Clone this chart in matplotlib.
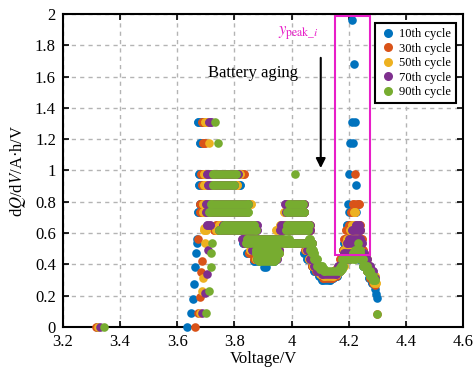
import matplotlib
matplotlib.use("Agg")
import matplotlib.pyplot as plt
from matplotlib.lines import Line2D
from matplotlib.patches import Rectangle
from matplotlib.ticker import FuncFormatter

plt.rcParams['font.family'] = ['Liberation Serif', 'DejaVu Serif']
plt.rcParams['mathtext.fontset'] = 'stix'

# === Données : bandes horizontales (dQ/dV, V début, V fin) et points isolés ===
labels = ["10th cycle", "30th cycle", "50th cycle", "70th cycle", "90th cycle"]
colors = ["#0072BD", "#D95319", "#EDB120", "#7E2F8E", "#77AC30"]

# 10th cycle
c10_bands = [
    (1.307, 3.673, 3.685), (1.176, 3.680, 3.686), (0.98, 3.675, 3.800),
    (0.905, 3.677, 3.820), (0.784, 3.680, 3.840), (0.735, 3.672, 3.835),
    (0.653, 3.750, 3.865), (0.619, 3.740, 3.860), (0.56, 3.830, 3.950),
    (0.535, 3.830, 3.950), (0.47, 3.843, 3.950), (0.42, 3.870, 3.940),
    (0.784, 3.980, 4.040), (0.735, 3.978, 4.040), (0.653, 3.975, 4.060),
    (0.619, 3.972, 4.060), (0.535, 3.975, 4.065), (0.47, 4.045, 4.060),
    (0.435, 4.055, 4.075), (0.392, 4.070, 4.085), (0.356, 4.080, 4.100),
    (0.327, 4.095, 4.110), (0.30, 4.105, 4.135), (0.31, 4.130, 4.145),
    (0.327, 4.140, 4.160), (0.356, 4.155, 4.170), (0.392, 4.165, 4.180),
    (0.435, 4.172, 4.190), (0.49, 4.180, 4.195), (0.535, 4.185, 4.200),
    (0.56, 4.190, 4.200), (0.653, 4.193, 4.200), (0.435, 4.235, 4.250),
    (0.392, 4.250, 4.262), (0.356, 4.262, 4.272), (0.31, 4.272, 4.282),
    (0.28, 4.280, 4.288),
]
c10_v = [3.320, 3.635, 3.648, 3.656, 3.660, 3.662, 3.665, 3.668, 3.670,
         3.904, 3.910, 4.210, 4.218, 4.211, 4.222, 4.206, 4.214, 4.201,
         4.226, 4.198, 4.200, 4.226, 4.232, 4.290, 4.295, 4.298]
c10_q = [0.0, 0.0, 0.09, 0.18, 0.275, 0.38, 0.47, 0.535, 0.56,
         0.38, 0.38, 1.96, 1.68, 1.307, 1.307, 1.176, 1.176, 0.98,
         0.905, 0.784, 0.735, 0.735, 0.784, 0.245, 0.21, 0.185]

# 30th cycle
c30_bands = [
    (1.307, 3.686, 3.695), (1.176, 3.690, 3.697), (0.98, 3.684, 3.832),
    (0.905, 3.685, 3.810), (0.784, 3.678, 3.845), (0.735, 3.680, 3.835),
    (0.653, 3.735, 3.870), (0.619, 3.728, 3.868), (0.56, 3.835, 3.960),
    (0.535, 3.835, 3.955), (0.47, 3.850, 3.955), (0.435, 3.870, 3.945),
    (0.784, 3.985, 4.040), (0.735, 3.980, 4.045), (0.653, 3.968, 4.062),
    (0.619, 3.965, 4.065), (0.535, 3.978, 4.068), (0.49, 4.047, 4.065),
    (0.435, 4.060, 4.078), (0.392, 4.072, 4.090), (0.356, 4.085, 4.105),
    (0.336, 4.100, 4.115), (0.31, 4.110, 4.140), (0.327, 4.135, 4.155),
    (0.356, 4.150, 4.170), (0.392, 4.165, 4.180), (0.435, 4.170, 4.190),
    (0.49, 4.180, 4.200), (0.56, 4.185, 4.245), (0.619, 4.190, 4.240),
    (0.653, 4.200, 4.240), (0.735, 4.208, 4.222), (0.784, 4.215, 4.235),
    (0.49, 4.240, 4.250), (0.435, 4.245, 4.260), (0.392, 4.255, 4.268),
    (0.356, 4.265, 4.278), (0.31, 4.275, 4.288), (0.28, 4.285, 4.293),
]
c30_v = [3.316, 3.662, 3.674, 3.680, 3.682, 3.688, 3.672, 4.222, 4.293, 4.297]
c30_q = [0.0, 0.0, 0.09, 0.19, 0.35, 0.42, 0.56, 0.98, 0.27, 0.08]

# 50th cycle
c50_bands = [
    (1.307, 3.698, 3.705), (0.98, 3.694, 3.818), (0.905, 3.695, 3.810),
    (0.784, 3.690, 3.858), (0.735, 3.690, 3.845), (0.653, 3.745, 3.870),
    (0.619, 3.692, 3.700), (0.619, 3.735, 3.875), (0.56, 3.838, 3.960),
    (0.535, 3.838, 3.958), (0.49, 3.855, 3.955), (0.435, 3.875, 3.945),
    (0.784, 3.985, 4.045), (0.735, 3.975, 4.045), (0.653, 3.960, 4.065),
    (0.619, 3.945, 4.065), (0.535, 3.980, 4.070), (0.49, 4.050, 4.070),
    (0.435, 4.062, 4.080), (0.392, 4.075, 4.092), (0.371, 4.090, 4.105),
    (0.336, 4.100, 4.120), (0.327, 4.115, 4.145), (0.336, 4.140, 4.158),
    (0.371, 4.155, 4.172), (0.392, 4.168, 4.182), (0.435, 4.175, 4.200),
    (0.49, 4.185, 4.240), (0.535, 4.190, 4.235), (0.56, 4.195, 4.235),
    (0.619, 4.205, 4.235), (0.653, 4.210, 4.228), (0.735, 4.217, 4.222),
    (0.47, 4.240, 4.252), (0.435, 4.250, 4.262), (0.392, 4.258, 4.270),
    (0.356, 4.268, 4.280), (0.327, 4.278, 4.290), (0.28, 4.288, 4.295),
]
c50_v = [3.322, 3.678, 3.688, 3.691, 3.697, 3.694, 3.712]
c50_q = [0.0, 0.09, 0.23, 0.31, 0.535, 0.63, 1.176]

# 70th cycle
c70_bands = [
    (1.307, 3.712, 3.718), (0.98, 3.703, 3.812), (0.905, 3.709, 3.800),
    (0.784, 3.700, 3.848), (0.735, 3.700, 3.845), (0.653, 3.705, 3.715),
    (0.653, 3.760, 3.880), (0.619, 3.745, 3.880), (0.56, 3.826, 3.965),
    (0.535, 3.832, 3.960), (0.49, 3.860, 3.955), (0.435, 3.880, 3.950),
    (0.784, 3.976, 4.045), (0.735, 3.980, 4.045), (0.653, 3.963, 4.065),
    (0.619, 3.958, 4.065), (0.535, 3.985, 4.072), (0.49, 4.055, 4.072),
    (0.435, 4.065, 4.085), (0.392, 4.078, 4.095), (0.356, 4.090, 4.110),
    (0.336, 4.105, 4.155), (0.356, 4.150, 4.165), (0.392, 4.162, 4.178),
    (0.435, 4.175, 4.200), (0.47, 4.185, 4.250), (0.535, 4.195, 4.245),
    (0.56, 4.200, 4.240), (0.619, 4.210, 4.240), (0.653, 4.225, 4.235),
    (0.47, 4.245, 4.255), (0.435, 4.252, 4.265), (0.392, 4.262, 4.275),
    (0.356, 4.272, 4.285), (0.31, 4.283, 4.293),
]
c70_v = [3.330, 3.685, 3.697, 3.705, 3.709]
c70_q = [0.0, 0.09, 0.22, 0.34, 0.49]

# 90th cycle
c90_bands = [
    (0.98, 3.726, 3.804), (0.905, 3.724, 3.798), (0.784, 3.718, 3.846),
    (0.735, 3.712, 3.846), (0.653, 3.765, 3.868), (0.619, 3.745, 3.875),
    (0.56, 3.845, 3.990), (0.535, 3.840, 4.000), (0.49, 3.875, 3.950),
    (0.47, 3.875, 3.955), (0.435, 3.880, 3.945), (0.42, 3.885, 3.940),
    (0.784, 3.990, 4.040), (0.735, 3.985, 4.045), (0.653, 3.985, 4.062),
    (0.619, 3.980, 4.058), (0.535, 3.990, 4.070), (0.56, 4.060, 4.065),
    (0.49, 4.065, 4.075), (0.47, 4.070, 4.080), (0.435, 4.078, 4.090),
    (0.392, 4.090, 4.105), (0.371, 4.100, 4.115), (0.356, 4.112, 4.170),
    (0.371, 4.165, 4.175), (0.392, 4.172, 4.180), (0.435, 4.178, 4.222),
    (0.47, 4.215, 4.240), (0.49, 4.222, 4.238), (0.435, 4.240, 4.250),
    (0.392, 4.250, 4.262), (0.356, 4.262, 4.275), (0.327, 4.275, 4.285),
    (0.30, 4.285, 4.292),
]
c90_v = [3.345, 3.699, 3.712, 3.717, 3.717, 3.723, 3.731, 3.744, 4.012, 4.233, 4.297]
c90_q = [0.0, 0.09, 0.23, 0.38, 0.47, 0.535, 1.307, 1.176, 0.98, 0.535, 0.08]

cycles = [
    (c10_bands, c10_v, c10_q),
    (c30_bands, c30_v, c30_q),
    (c50_bands, c50_v, c50_q),
    (c70_bands, c70_v, c70_q),
    (c90_bands, c90_v, c90_q),
]

# === Figure ===
D = 6.2  # diamètre des points (pt)
fig = plt.figure(figsize=(4.76, 3.69), dpi=100)
ax = fig.add_axes([0.132, 0.114, 0.841, 0.848])

for (bands, v, q), col in zip(cycles, colors):
    for y, v0, v1 in bands:
        ax.plot([v0, v1], [y, y], color=col, lw=D, solid_capstyle='round',
                marker='o', ms=D, mew=0, zorder=3, clip_on=False)
    ax.plot(v, q, 'o', color=col, ms=D, mew=0, ls='none', zorder=3, clip_on=False)

ax.set_xlim(3.2, 4.6)
ax.set_ylim(0, 2)
ax.set_xticks([3.2, 3.4, 3.6, 3.8, 4.0, 4.2, 4.4, 4.6])
ax.set_yticks([0, 0.2, 0.4, 0.6, 0.8, 1.0, 1.2, 1.4, 1.6, 1.8, 2.0])
fmt = FuncFormatter(lambda val, pos: "%g" % round(val, 2))
ax.xaxis.set_major_formatter(fmt)
ax.yaxis.set_major_formatter(fmt)
ax.tick_params(direction='in', top=True, right=True, length=4, width=1.2,
               labelsize=12)
ax.tick_params(axis='x', pad=5)
ax.tick_params(axis='y', pad=5)
for sp in ax.spines.values():
    sp.set_linewidth(1.5)
ax.grid(True, color='#b4b4b4', ls=(0, (3, 3)), lw=1.0, zorder=0)
ax.set_axisbelow(True)

ax.set_xlabel("Voltage/V", fontsize=12, labelpad=1)
ax.set_ylabel(r"d$Q$/d$V$/A·h/V", fontsize=12, labelpad=5)

# rectangle pic
ax.add_patch(Rectangle((4.152, 0.46), 0.123, 1.525, fill=False,
                       edgecolor='#e81ec8', lw=1.5, zorder=4))
ax.text(4.022, 1.88, r"$y_{\mathrm{peak}\_i}$", color='#e81ec8',
        fontsize=12, ha='center', va='center')

ax.text(3.864, 1.623, "Battery aging", fontsize=12, ha='center', va='center')
ax.annotate("", xy=(4.102, 1.015), xytext=(4.102, 1.72),
            arrowprops=dict(arrowstyle='-|>', color='k', lw=1.5,
                            mutation_scale=14, shrinkA=0, shrinkB=0))

handles = [Line2D([], [], marker='o', ls='none', color=c, ms=6.5, mew=0)
           for c in colors]
leg = ax.legend(handles, labels, loc='upper right',
                bbox_to_anchor=(0.9825, 0.971), borderaxespad=0,
                fontsize=9, fancybox=False, framealpha=1, edgecolor='k',
                handletextpad=0.3, labelspacing=0.2, borderpad=0.4,
                handlelength=1.2)
leg.get_frame().set_linewidth(1.5)
leg.set_zorder(5)

fig.savefig("out.png", dpi=100)
